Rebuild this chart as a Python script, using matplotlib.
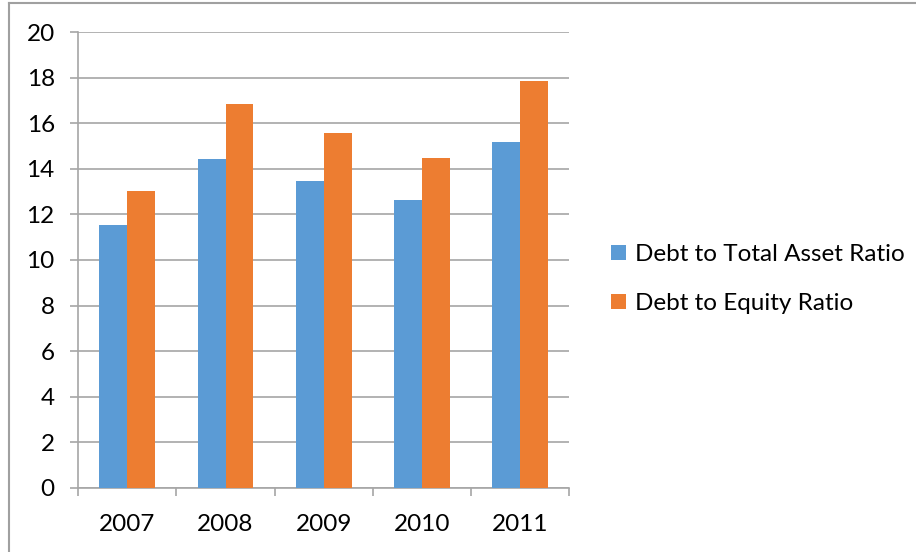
import matplotlib.pyplot as plt
import numpy as np
from matplotlib.lines import Line2D
from matplotlib.patches import Patch

years = ['2007', '2008', '2009', '2010', '2011']
debt_to_asset = [11.53, 14.43, 13.47, 12.65, 15.19]
debt_to_equity = [13.02, 16.86, 15.56, 14.47, 17.88]
series_names = ['Debt to Total Asset Ratio', 'Debt to Equity Ratio']
colors = ['#5B9BD5', '#ED7D31']

plt.rcParams['font.family'] = ['Lato', 'DejaVu Sans']
grid_color = '#a6a6a6'

fig = plt.figure(figsize=(9.16, 5.52), dpi=100)
ax = fig.add_axes([78.3 / 916, 1 - 487.7 / 552, 490.7 / 916, 455.4 / 552])

x = np.arange(len(years))
w = 0.285
ax.bar(x - w / 2, debt_to_asset, w, color=colors[0], zorder=3)
ax.bar(x + w / 2, debt_to_equity, w, color=colors[1], zorder=3)

ax.set_xlim(-0.5, len(years) - 0.5)
ax.set_ylim(0, 20)
ax.set_yticks(range(0, 21, 2))
ax.set_xticks(x)
ax.set_xticklabels(years)
ax.set_xticks(np.arange(-0.5, len(years), 1), minor=True)

ax.yaxis.grid(True, color=grid_color, linewidth=1.2, zorder=0)
for s in ['top', 'right']:
    ax.spines[s].set_visible(False)
for s in ['left', 'bottom']:
    ax.spines[s].set_color(grid_color)
    ax.spines[s].set_linewidth(1.2)

ax.tick_params(axis='y', length=6, width=1.2, color=grid_color, pad=11,
               labelsize=17.5)
ax.tick_params(axis='x', which='major', length=0, pad=19, labelsize=17.5)
ax.tick_params(axis='x', which='minor', length=6, width=1.2, color=grid_color)

handles = [Patch(facecolor=c, edgecolor='none') for c in colors]
fig.legend(handles, series_names, loc='center left',
           bbox_to_anchor=(611 / 916, 1 - 279 / 552), frameon=False,
           fontsize=17.5, handlelength=0.62, handleheight=0.62,
           handletextpad=0.35, labelspacing=1.15, borderpad=0,
           borderaxespad=0)

# chart border (only top and left edges visible in the crop)
fig.add_artist(Line2D([9 / 916, 9 / 916], [0, 1 - 3 / 552],
                      transform=fig.transFigure, color='#a0a0a0', linewidth=1.5))
fig.add_artist(Line2D([9 / 916, 1], [1 - 3 / 552, 1 - 3 / 552],
                      transform=fig.transFigure, color='#a0a0a0', linewidth=1.5))

fig.savefig('out.png', dpi=100)
